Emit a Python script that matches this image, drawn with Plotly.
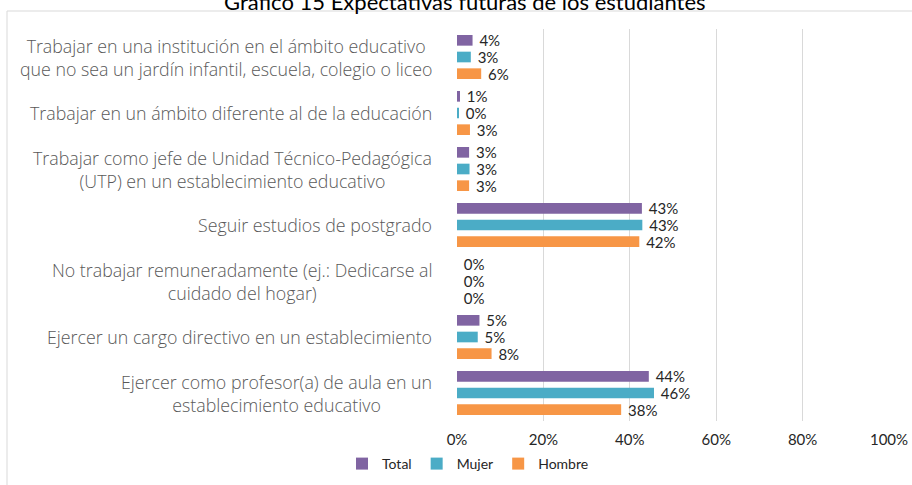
import plotly.graph_objects as go

# ---- data ----
categories = [
    "Trabajar en una institución en el ámbito educativo<br>que no sea un jardín infantil, escuela, colegio o liceo",
    "Trabajar en un ámbito diferente al de la educación",
    "Trabajar como jefe de Unidad Técnico-Pedagógica<br>(UTP) en un establecimiento educativo",
    "Seguir estudios de postgrado",
    "No trabajar remuneradamente (ej.: Dedicarse al<br>cuidado del hogar)",
    "Ejercer un cargo directivo en un establecimiento",
    "Ejercer como profesor(a) de aula en un<br>establecimiento educativo",
]
total = [3.6, 0.7, 2.8, 42.8, 0.0, 5.2, 44.4]
mujer = [3.2, 0.3, 2.9, 42.9, 0.0, 4.8, 45.6]
hombre = [5.6, 3.0, 2.8, 42.2, 0.0, 8.0, 38.0]
series_names = ["Total", "Mujer", "Hombre"]
colors = ["#8064A2", "#4BACC6", "#F79646"]
tick_vals = [0, 20, 40, 60, 80, 100]
tick_text = ["0%", "20%", "40%", "60%", "80%", "100%"]
title_text = "Gráfico 15 Expectativas futuras de los estudiantes"

W, H = 912, 485
ML, MR, MT, MB = 457, 23, 29, 64
PW, PH = W - ML - MR, H - MT - MB

def px_to_paper_x(px):
    return (px - ML) / PW

def px_to_paper_y(py):
    return (H - MB - py) / PH

fig = go.Figure()
for name, vals, col in zip(series_names, [total, mujer, hombre], colors):
    fig.add_trace(go.Bar(
        y=categories, x=vals, name=name, orientation="h",
        marker=dict(color=col, line=dict(width=0)),
        text=["\u00a0" + f"{round(v)}%" for v in vals],
        textposition="outside",
        constraintext="none",
        textfont=dict(family="Lato, sans-serif", size=15, color="#262626"),
        cliponaxis=False,
    ))

annotations = []
for cat in categories:
    lines = cat.split("<br>")
    txt = "<br>".join(f"<span style='font-size:17.8px'>{l}</span>" for l in lines)
    annotations.append(dict(
        x=px_to_paper_x(434), xref="paper", xanchor="right",
        y=cat, yref="y", yanchor="middle",
        text=txt, align="center", showarrow=False,
        font=dict(family="Open Sans, sans-serif", size=17.7, color="#595959", weight=300),
    ))

annotations.append(dict(
    x=px_to_paper_x(465), xref="paper", xanchor="center",
    y=px_to_paper_y(1), yref="paper", yanchor="middle",
    text=title_text, showarrow=False,
    font=dict(family="Lato, sans-serif", size=22, color="#000000"),
))

shapes = [
    dict(type="line", xref="paper", yref="paper",
         x0=px_to_paper_x(7), x1=px_to_paper_x(W + 5),
         y0=px_to_paper_y(11), y1=px_to_paper_y(11),
         line=dict(color="#d9d9d9", width=1)),
    dict(type="line", xref="paper", yref="paper",
         x0=px_to_paper_x(7), x1=px_to_paper_x(7),
         y0=px_to_paper_y(11), y1=px_to_paper_y(H + 5),
         line=dict(color="#d9d9d9", width=1)),
]

fig.update_layout(
    width=W, height=H,
    margin=dict(l=ML, r=MR, t=MT, b=MB, autoexpand=False),
    paper_bgcolor="white", plot_bgcolor="white",
    barmode="group", bargap=0.107, bargroupgap=0.36,
    xaxis=dict(range=[0, 100], tickvals=tick_vals, ticktext=tick_text,
               showgrid=True, gridcolor="#d9d9d9", gridwidth=1,
               zeroline=False, showline=False, ticks="",
               ticklabelstandoff=8,
               tickfont=dict(family="Lato, sans-serif", size=15, color="#262626")),
    yaxis=dict(autorange="reversed", showticklabels=False, showgrid=False,
               zeroline=False, showline=False, ticks=""),
    legend=dict(orientation="h", x=px_to_paper_x(468), xanchor="center",
                y=px_to_paper_y(464), yanchor="middle",
                font=dict(family="Lato, sans-serif", size=14, color="#262626"),
                itemwidth=30, tracegroupgap=0),
    showlegend=True,
    annotations=annotations,
    shapes=shapes,
)

fig.write_html("out.html", config={"displayModeBar": False},
               post_script="document.body.style.margin='0';document.body.style.overflow='hidden';")
